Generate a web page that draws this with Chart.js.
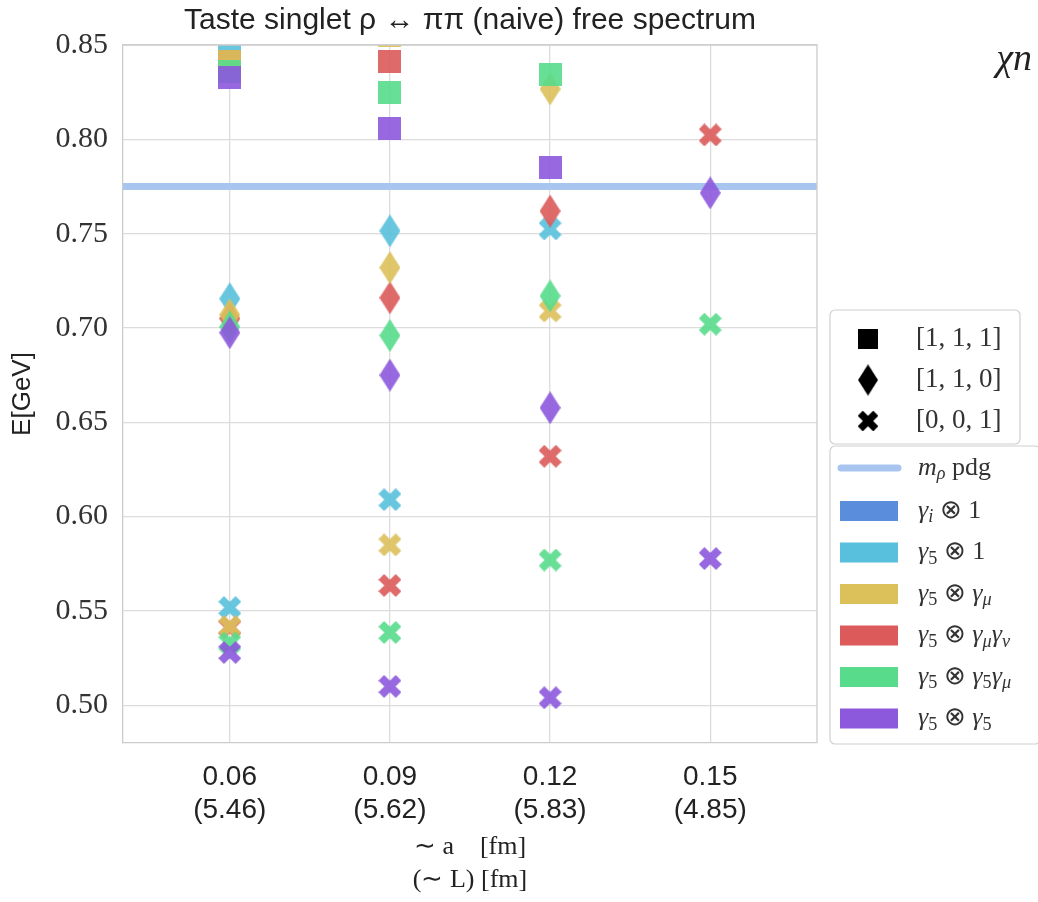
<!DOCTYPE html>
<html>
<head>
<meta charset="utf-8">
<script src="https://cdn.jsdelivr.net/npm/chart.js@4/dist/chart.umd.min.js"></script>
<style>
  html, body { margin: 0; background: #fff; }
</style>
</head>
<body>
<canvas id="chart" width="1038" height="902"></canvas>
<script>
// lattice spacings (x ticks) and box sizes shown under them
var spacings = [0.06, 0.09, 0.12, 0.15];
var boxSizes = ['(5.46)', '(5.62)', '(5.83)', '(4.85)'];
var yTicks = [0.50, 0.55, 0.60, 0.65, 0.70, 0.75, 0.80, 0.85];

var channels = ['γ_i ⊗ 1', 'γ_5 ⊗ 1', 'γ_5 ⊗ γ_μ', 'γ_5 ⊗ γ_μγ_ν', 'γ_5 ⊗ γ_5γ_μ', 'γ_5 ⊗ γ_5'];
var channelColors = ['#5a8ddb', '#58c0dc', '#dcc05a', '#dc5a5a', '#58dc8c', '#8c58dc'];
// stacking: higher is drawn first (underneath)
var channelOrder = [6, 5, 3, 4, 2, 1];
var momenta = ['[1, 1, 1]', '[1, 1, 0]', '[0, 0, 1]'];
var momentumShapes = ['square', 'diamond', 'cross'];
var mRhoPdg = 0.775;

// energies in GeV, rows = channels, columns = spacings
var e111 = [
    [null, null, null, null],
    [0.849, null, null, null],
    [0.841, 0.855, null, null],
    [0.841, 0.841, null, null],
    [0.836, 0.8246, 0.8341, null],
    [0.833, 0.806, 0.785, null],
];
var e110 = [
    [null, null, null, null],
    [0.7155, 0.7515, null, null],
    [0.707, 0.732, 0.8267, null],
    [0.705, 0.716, 0.762, null],
    [0.7006, 0.696, 0.717, null],
    [0.6975, 0.675, 0.6577, 0.7716],
];
var e001 = [
    [null, null, null, null],
    [0.5518, 0.609, 0.7525, null],
    [0.5417, 0.585, 0.709, null],
    [0.5412, 0.5635, 0.632, 0.8023],
    [0.533, 0.5386, 0.577, 0.702],
    [0.528, 0.510, 0.504, 0.5778],
];
var energies = [e111, e110, e001];

function rgba(hex, a) {
    var n = parseInt(hex.slice(1), 16);
    return 'rgba(' + (n >> 16) + ',' + ((n >> 8) & 255) + ',' + (n & 255) + ',' + a + ')';
}

// filled marker images, like matplotlib 's', 'd' and 'X'
function makeMarker(shape, fill) {
    var c = document.createElement('canvas');
    var w = 23, h = 23;
    if (shape === 'diamond') { w = 21; h = 33; }
    c.width = w; c.height = h;
    var g = c.getContext('2d');
    g.fillStyle = fill;
    g.beginPath();
    if (shape === 'square') {
        g.rect(0, 0, w, h);
    } else if (shape === 'diamond') {
        g.moveTo(w / 2, 0); g.lineTo(w, h / 2); g.lineTo(w / 2, h); g.lineTo(0, h / 2);
    } else {
        var a = 4, L = 12.2;
        var pts = [[-a, -L], [a, -L], [a, -a], [L, -a], [L, a], [a, a], [a, L], [-a, L], [-a, a], [-L, a], [-L, -a], [-a, -a]];
        var r = Math.SQRT1_2;
        pts.forEach(function (p, i) {
            var x = w / 2 + (p[0] - p[1]) * r, y = h / 2 + (p[0] + p[1]) * r;
            if (i === 0) g.moveTo(x, y); else g.lineTo(x, y);
        });
    }
    g.closePath();
    g.fill();
    return c;
}

var datasets = [{
    type: 'line',
    label: 'm_ρ pdg',
    data: [{ x: 0.04, y: mRhoPdg }, { x: 0.17, y: mRhoPdg }],
    borderColor: '#a7c5ee',
    borderWidth: 7,
    pointRadius: 0,
    order: 20,
}];
energies.forEach(function (rows, m) {
    rows.forEach(function (vals, c) {
        var pts = [];
        vals.forEach(function (v, i) {
            if (v !== null) pts.push({ x: spacings[i], y: v });
        });
        datasets.push({
            label: channels[c] + ' ' + momenta[m],
            data: pts,
            pointStyle: makeMarker(momentumShapes[m], rgba(channelColors[c], 0.9)),
            pointRadius: 12,
            order: channelOrder[c],
        });
    });
});

// text with "_x" subscripts, single math letters in italic
function richText(ctx, s, x, y, size) {
    var words = s.split(' ');
    words.forEach(function (wd, k) {
        var plainWord = wd === 'pdg';
        for (var i = 0; i < wd.length; i++) {
            var ch = wd[i], sub = false;
            if (ch === '_') { sub = true; ch = wd[++i]; }
            var italic = !plainWord && /[α-ωa-z]/.test(ch);
            var fs = sub ? size * 0.7 : size;
            ctx.font = (italic ? 'italic ' : '') + fs + 'px "Liberation Serif"';
            ctx.fillText(ch, x, sub ? y + size * 0.25 : y);
            x += ctx.measureText(ch).width;
        }
        ctx.font = size + 'px "Liberation Serif"';
        if (k < words.length - 1) x += ctx.measureText(' ').width;
    });
}

function roundBox(ctx, x, y, w, h) {
    ctx.beginPath();
    ctx.roundRect(x, y, w, h, 5);
    ctx.fillStyle = '#fff';
    ctx.fill();
    ctx.strokeStyle = '#d0d0d0';
    ctx.lineWidth = 1.2;
    ctx.stroke();
}

var extras = {
    id: 'extras',
    afterDraw: function (chart) {
        var ctx = chart.ctx, a = chart.chartArea;
        ctx.save();
        // top and right frame
        ctx.strokeStyle = '#cccccc';
        ctx.lineWidth = 1.3;
        ctx.beginPath();
        ctx.moveTo(a.left, a.top); ctx.lineTo(a.right, a.top); ctx.lineTo(a.right, a.bottom);
        ctx.stroke();

        // momentum legend
        roundBox(ctx, 830, 310, 190, 134);
        ctx.textBaseline = 'middle';
        momenta.forEach(function (m, i) {
            var y = 339 + i * 41;
            var img = makeMarker(momentumShapes[i], '#000');
            var k = momentumShapes[i] === 'diamond' ? 0.95 : 0.9;
            ctx.drawImage(img, 868 - img.width * k / 2, y - img.height * k / 2, img.width * k, img.height * k);
            ctx.fillStyle = '#333';
            ctx.font = '27px "Liberation Serif"';
            ctx.fillText(m, 916, y);
        });

        // channel legend
        roundBox(ctx, 830, 446, 210, 298);
        ctx.strokeStyle = '#a7c5ee';
        ctx.lineWidth = 7;
        ctx.lineCap = 'round';
        ctx.beginPath(); ctx.moveTo(841, 468); ctx.lineTo(898, 468); ctx.stroke();
        ctx.fillStyle = '#333';
        richText(ctx, 'm_ρ pdg', 918, 468, 26);
        channels.forEach(function (c, i) {
            var y = 511 + i * 41.5;
            ctx.fillStyle = channelColors[i];
            ctx.fillRect(840, y - 10, 58, 20);
            ctx.fillStyle = '#333';
            richText(ctx, c, 918, y, 26);
        });

        ctx.font = 'italic 38px "Liberation Serif"';
        ctx.fillStyle = '#222';
        ctx.textAlign = 'right';
        ctx.fillText('χn', 1032, 60);
        ctx.restore();
    },
};

var ctx = document.getElementById('chart').getContext('2d');
var scatterChart = new Chart(ctx, {
    type: 'scatter',
    data: { datasets: datasets },
    options: {
        responsive: false,
        animation: false,
        layout: { padding: { right: 221 } },
        scales: {
            x: {
                min: 0.04,
                max: 0.17,
                afterBuildTicks: function (s) { s.ticks = spacings.map(function (v) { return { value: v }; }); },
                afterFit: function (s) { s.height = 159; },
                grid: { color: '#dcdcdc', lineWidth: 1.3, drawTicks: false },
                border: { color: '#cccccc', width: 1.3 },
                ticks: {
                    padding: 18,
                    color: '#222',
                    font: { family: 'Liberation Sans', size: 28, lineHeight: 1.18 },
                    callback: function (v, i) { return [spacings[i].toFixed(2), boxSizes[i]]; },
                },
                title: {
                    display: true,
                    text: ['∼ a    [fm]', '(∼ L) [fm]'],
                    color: '#222',
                    font: { family: 'Liberation Serif', size: 26, lineHeight: 1.25 },
                    padding: { top: 0, bottom: 6 },
                },
            },
            y: {
                min: 0.48,
                max: 0.85,
                afterBuildTicks: function (s) { s.ticks = yTicks.map(function (v) { return { value: v }; }); },
                afterFit: function (s) { s.width = 123; },
                grid: { color: '#dcdcdc', lineWidth: 1.3, drawTicks: false },
                border: { color: '#cccccc', width: 1.3 },
                ticks: {
                    padding: 15,
                    color: '#333',
                    font: { family: 'Liberation Serif', size: 30 },
                    callback: function (v) { return v.toFixed(2); },
                },
                title: {
                    display: true,
                    text: 'E[GeV]',
                    color: '#222',
                    font: { family: 'Liberation Sans', size: 26 },
                    padding: { top: 7, bottom: 0 },
                },
            },
        },
        plugins: {
            legend: { display: false },
            tooltip: { enabled: false },
            title: {
                display: true,
                fullSize: false,
                text: 'Taste singlet ρ ↔ ππ (naive) free spectrum',
                color: '#222',
                font: { family: 'Liberation Sans', size: 30, weight: 'normal', lineHeight: 1.2 },
                padding: { top: 3, bottom: 6 },
            },
        },
    },
    plugins: [extras],
});
</script>
</body>
</html>
